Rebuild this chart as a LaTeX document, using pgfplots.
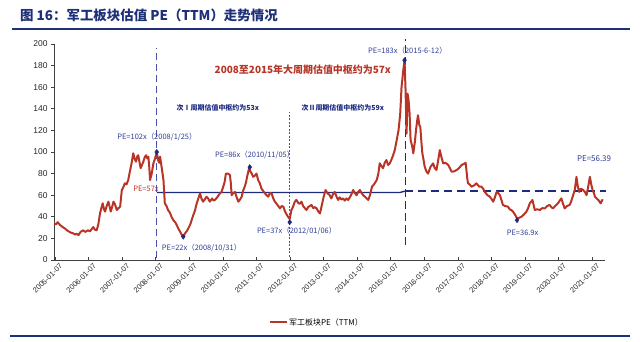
\documentclass[border=0pt]{standalone}
\usepackage{fontspec}
\setmainfont{Liberation Sans}
\newfontfamily\cjk{Noto Sans CJK SC}
\usepackage{pgfplots}
\usepackage{pgfplotstable}
\pgfplotsset{compat=1.18}
\definecolor{pered}{RGB}{184,52,38}
\definecolor{navy}{RGB}{28,42,128}
\definecolor{labblue}{RGB}{45,60,150}
\definecolor{dashblue}{RGB}{70,82,170}
\definecolor{titleblue}{RGB}{30,48,120}

\pgfplotstableread{
x y
2005.00 34
2005.05 33
2005.10 35
2005.17 32.4
2005.25 30.5
2005.32 29
2005.40 27
2005.48 25.5
2005.56 24.7
2005.62 23.5
2005.66 24.5
2005.72 23
2005.78 26
2005.86 27.5
2005.92 26
2006.00 27.5
2006.06 26.5
2006.12 29
2006.16 30.5
2006.21 28
2006.26 27.5
2006.31 33
2006.36 43
2006.40 48
2006.44 52.5
2006.48 47
2006.51 44.8
2006.56 50
2006.61 54
2006.65 49
2006.68 44.8
2006.72 49
2006.76 54
2006.80 52
2006.86 46.3
2006.91 48
2006.96 49.4
2007.01 64.8
2007.05 67
2007.10 71
2007.15 70
2007.20 74
2007.25 82
2007.30 89.5
2007.35 98.8
2007.39 94
2007.43 91
2007.47 96
2007.50 97
2007.54 90
2007.57 85
2007.61 88
2007.65 91
2007.69 95
2007.73 97
2007.77 94
2007.80 95.7
2007.83 85
2007.85 74
2007.90 80
2007.95 89.5
2008.00 94
2008.05 100
2008.09 92.6
2008.12 90
2008.15 95.7
2008.20 85
2008.25 74
2008.29 52.5
2008.34 50
2008.39 46
2008.44 44
2008.49 40
2008.54 37
2008.60 35
2008.65 32
2008.69 29.3
2008.75 26
2008.80 23
2008.84 21.6
2008.90 25
2008.95 27
2008.99 29.3
2009.05 33
2009.10 38
2009.14 41.7
2009.19 46
2009.24 52.5
2009.29 57
2009.34 61.7
2009.38 57
2009.43 54
2009.48 56
2009.53 58.6
2009.58 57
2009.63 54
2009.70 57
2009.74 55
2009.78 55.6
2009.85 58
2009.93 61.7
2009.98 63
2010.03 67.9
2010.07 72
2010.11 80
2010.17 80
2010.23 78.7
2010.26 70
2010.28 60
2010.33 62
2010.38 63
2010.43 58
2010.48 54
2010.53 56
2010.58 58.6
2010.62 64
2010.67 67.9
2010.71 72
2010.74 77
2010.80 85
2010.84 82
2010.88 80
2010.92 77
2010.97 78
2011.02 80
2011.07 74
2011.12 71
2011.17 66
2011.22 64
2011.27 61.7
2011.32 60
2011.37 58.6
2011.42 62
2011.47 61.7
2011.52 57
2011.57 54
2011.62 52
2011.67 50
2011.72 47.8
2011.77 50
2011.82 49.4
2011.87 45
2011.92 42
2011.96 40
2012.01 38
2012.06 46.3
2012.11 49.4
2012.16 54
2012.21 55.6
2012.26 53
2012.31 52
2012.36 54
2012.41 50
2012.46 48
2012.51 46.3
2012.56 49
2012.61 50
2012.66 51
2012.71 48
2012.76 49
2012.81 47.8
2012.86 45
2012.91 43
2012.96 50
2013.01 57
2013.05 62
2013.08 64.8
2013.13 62
2013.20 60
2013.25 57
2013.30 61
2013.35 63
2013.40 59
2013.45 55.6
2013.50 58
2013.55 56
2013.60 57
2013.65 55
2013.70 57
2013.75 55.6
2013.80 58
2013.85 61
2013.90 64.8
2013.95 62
2014.00 60
2014.05 63
2014.10 64.8
2014.15 62
2014.20 60
2014.25 58.6
2014.30 57
2014.35 55.6
2014.40 60
2014.46 67.9
2014.52 70
2014.60 74
2014.65 80
2014.69 89.5
2014.74 87
2014.79 85
2014.84 90
2014.89 92.6
2014.94 88
2014.99 89.5
2015.04 93
2015.09 97
2015.14 102
2015.19 110
2015.25 120
2015.30 135
2015.34 160
2015.39 175
2015.43 185
2015.46 157
2015.49 117
2015.52 154
2015.55 148
2015.58 135.8
2015.61 111
2015.66 105
2015.69 98.8
2015.74 110
2015.77 120
2015.81 130
2015.83 134
2015.87 125
2015.90 123
2015.93 110
2015.96 98.8
2016.00 92
2016.03 86.4
2016.08 82
2016.13 80
2016.20 86
2016.28 89.5
2016.33 85
2016.38 83.3
2016.43 92
2016.48 101.8
2016.53 95
2016.58 89.5
2016.65 90
2016.73 88
2016.78 85
2016.83 81.8
2016.90 82
2016.98 83.3
2017.05 85
2017.13 88
2017.20 89
2017.25 90
2017.30 75
2017.32 71
2017.37 70
2017.42 67.9
2017.50 69
2017.57 71
2017.65 68
2017.72 67.9
2017.77 66
2017.82 63
2017.90 60
2017.97 58.6
2018.03 56
2018.07 54
2018.12 58
2018.17 63
2018.22 62
2018.27 60
2018.32 55
2018.36 51
2018.42 50
2018.51 49.4
2018.56 47
2018.62 46
2018.66 44.8
2018.72 42
2018.78 38.6
2018.84 39
2018.91 40
2018.98 42
2019.06 44.8
2019.11 48
2019.16 52.5
2019.20 54
2019.24 55.6
2019.28 50
2019.31 46.3
2019.38 47
2019.46 46.3
2019.53 48
2019.61 47.8
2019.68 50
2019.75 51
2019.80 49
2019.85 47.8
2019.92 50
2020.00 52.5
2020.05 55
2020.10 57
2020.15 52
2020.20 47.8
2020.27 50
2020.35 51
2020.40 55
2020.45 60
2020.50 65
2020.55 77
2020.59 68
2020.63 63
2020.68 66
2020.75 64.8
2020.80 63
2020.85 60
2020.90 68
2020.95 77
2020.99 70
2021.03 64.8
2021.07 62
2021.10 58.6
2021.15 57
2021.20 55.6
2021.27 52.5
2021.33 56.2
}\pedata

\begin{document}
\begin{tikzpicture}[x=1bp,y=1bp]
\useasboundingbox (0,0) rectangle (640,341);
% title
\node[anchor=west, inner sep=0pt, text=titleblue] at (20,326) {\cjk\bfseries\fontsize{13.5}{15}\selectfont 图 16：军工板块估值 PE（TTM）走势情况};
\draw[titleblue, line width=2pt] (12,312) -- (630,312);
\draw[titleblue, line width=2.5pt] (10,5) -- (630,5);
% legend
\draw[pered, line width=2pt] (270,19) -- (287,19);
\node[anchor=west, inner sep=0pt] at (289,19) {\cjk\fontsize{8}{9}\selectfont 军工板块PE（TTM）};

\begin{axis}[
  at={(54bp,81bp)}, anchor=south west,
  scale only axis, width=551bp, height=216bp,
  xmin=2004.99, xmax=2021.40, ymin=0, ymax=200,
  axis x line*=bottom, axis y line*=left,
  axis line style={black!75, line width=0.8pt},
  clip=false,
  ytick={0,20,...,200},
  xtick={2005.02,2006.02,2007.02,2008.02,2009.02,2010.02,2011.02,2012.02,2013.02,2014.02,2015.02,2016.02,2017.02,2018.02,2019.02,2020.02,2021.02},
  xticklabels={2005-01-07,2006-01-07,2007-01-07,2008-01-07,2009-01-07,2010-01-07,2011-01-07,2012-01-07,2013-01-07,2014-01-07,2015-01-07,2016-01-07,2017-01-07,2018-01-07,2019-01-07,2020-01-07,2021-01-07},
  xtick align=inside, ytick align=outside,
  major tick length=3bp,
  tick style={black!75, line width=0.7pt},
  /pgf/number format/assume math mode=true,
  y tick label style={font=\fontsize{8.5}{10}\selectfont, text=black!85},
  x tick label style={font=\fontsize{7.5}{8}\selectfont, text=black!85, rotate=45, anchor=north east, inner sep=1pt, yshift=-4bp, xshift=2bp},
]
% reference lines
\addplot[dashblue, line width=1.3pt, dash pattern=on 7bp off 4bp] coordinates {(2008.05,2) (2008.05,196)};
\addplot[dashblue, line width=0.9pt, dash pattern=on 2bp off 1.5bp] coordinates {(2012.01,3) (2012.01,137)};
\addplot[navy, line width=1.3pt, dash pattern=on 8bp off 4bp] coordinates {(2015.45,14) (2015.45,205)};
\addplot[navy, line width=1.4pt] coordinates {(2008.05,62.5) (2015.30,62.5) (2015.40,63.5) (2015.45,63.5)};
\addplot[navy, line width=1.4pt, dash pattern=on 8bp off 5bp] coordinates {(2015.45,64) (2021.42,64)};
% series
\addplot[pered, line width=2pt, line join=round] table[x=x,y=y] {\pedata};
% markers
\addplot[only marks, mark=diamond*, mark size=2.6pt, navy] coordinates {(2008.05,100) (2008.84,21.6) (2010.82,86) (2012.01,35) (2015.43,185) (2018.78,36.9)};
% annotations
\node[anchor=center, text=pered] at (axis cs:2012.40,176) {\cjk\bfseries\fontsize{10}{12}\selectfont 2008至2015年大周期估值中枢约为57x};
\node[anchor=center, text=navy] at (axis cs:2009.87,141) {\cjk\bfseries\fontsize{7}{8}\selectfont 次Ⅰ周期估值中枢约为53x};
\node[anchor=center, text=navy] at (axis cs:2013.59,141) {\cjk\bfseries\fontsize{7}{8}\selectfont 次Ⅱ周期估值中枢约为59x};
\node[anchor=west, inner sep=0pt, text=labblue] at (axis cs:2006.87,114) {\cjk\fontsize{7.5}{9}\selectfont PE=102x（2008/1/25）};
\node[anchor=center, inner sep=0pt, text=pered] at (axis cs:2007.73,66) {\cjk\fontsize{7.5}{9}\selectfont PE=57x};
\node[anchor=west, inner sep=0pt, text=labblue] at (axis cs:2008.20,11) {\cjk\fontsize{7.5}{9}\selectfont PE=22x（2008/10/31）};
\node[anchor=west, inner sep=0pt, text=labblue] at (axis cs:2009.78,97) {\cjk\fontsize{7.5}{9}\selectfont PE=86x（2010/11/05）};
\node[anchor=west, inner sep=0pt, text=labblue] at (axis cs:2011.03,27) {\cjk\fontsize{7.5}{9}\selectfont PE=37x（2012/01/06）};
\node[anchor=west, inner sep=0pt, text=labblue] at (axis cs:2014.34,193.5) {\cjk\fontsize{7.5}{9}\selectfont PE=183x（2015-6-12）};
\node[anchor=west, inner sep=0pt, text=labblue] at (axis cs:2020.56,94) {\cjk\fontsize{8}{9}\selectfont PE=56.39};
\node[anchor=west, inner sep=0pt, text=labblue] at (axis cs:2018.47,25) {\cjk\fontsize{7.5}{9}\selectfont PE=36.9x};
\end{axis}
\end{tikzpicture}
\end{document}
